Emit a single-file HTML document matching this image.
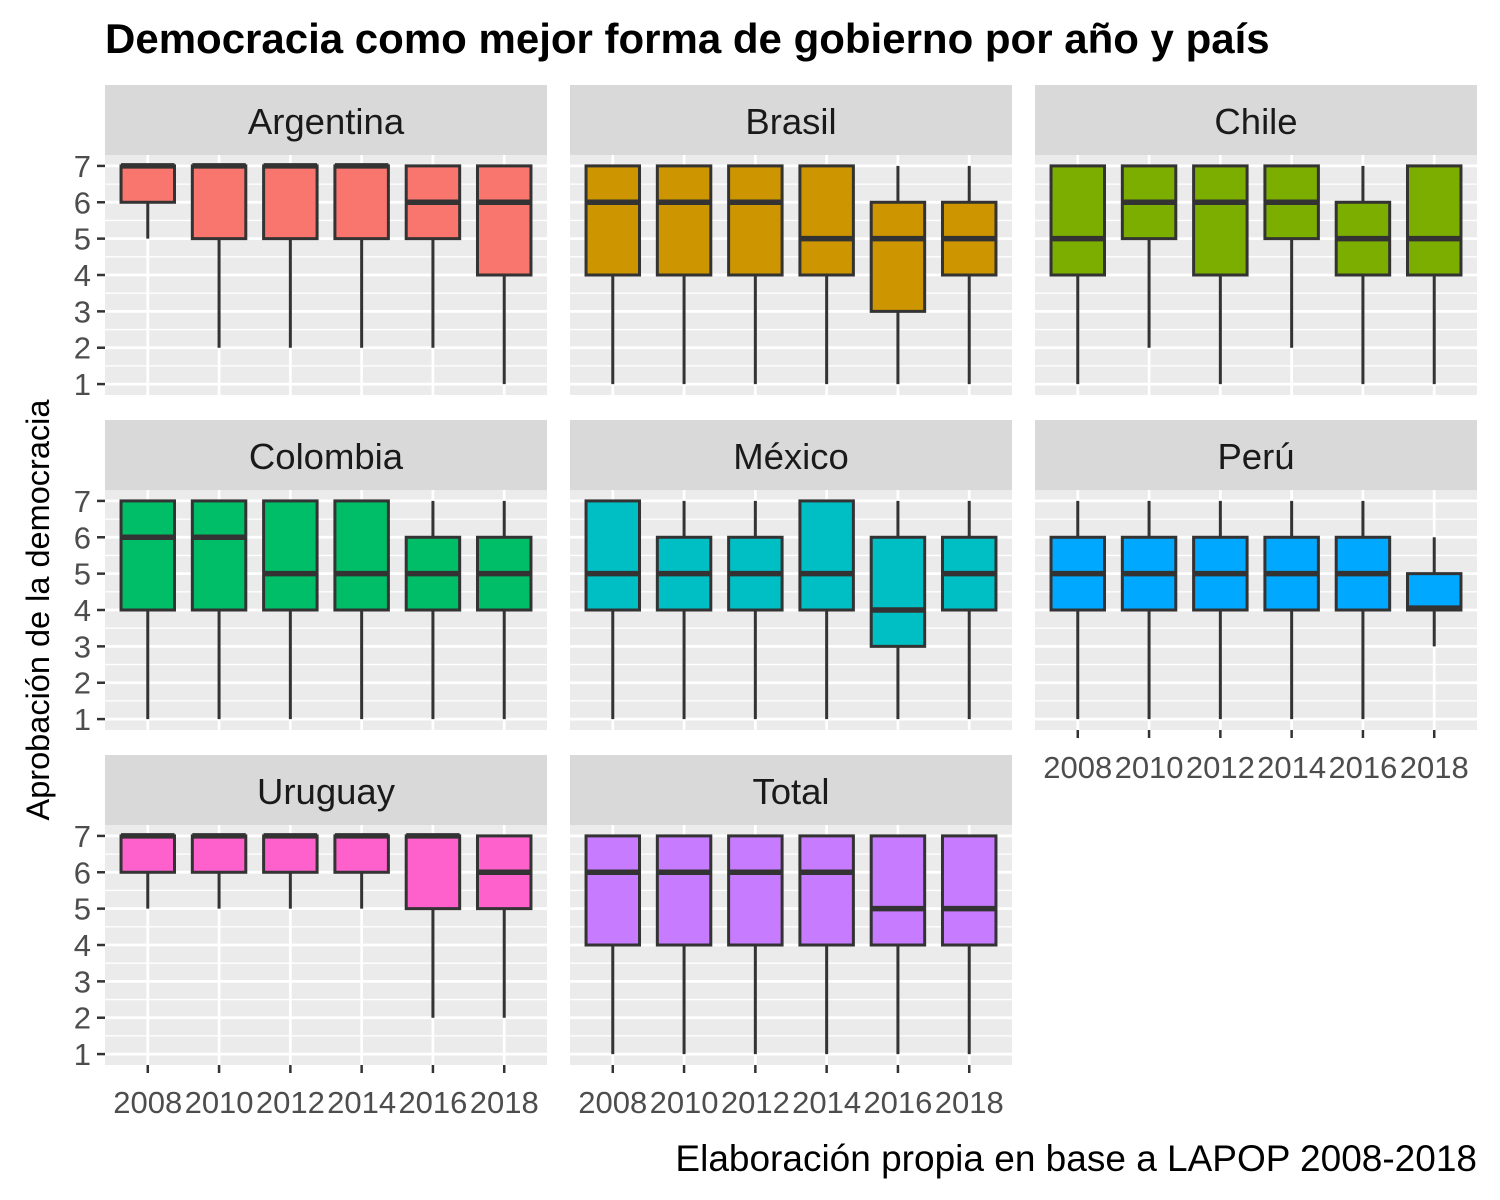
<!DOCTYPE html>
<html><head><meta charset="utf-8"><style>body{margin:0;background:#fff}svg{display:block}text{font-family:"Liberation Sans",Arial,sans-serif}</style></head>
<body>
<svg id="chart" width="1500" height="1200" xmlns="http://www.w3.org/2000/svg">
<text x="105" y="53" font-size="42" font-weight="bold" fill="#000">Democracia como mejor forma de gobierno por año y país</text>
<text transform="translate(49,610) rotate(-90)" text-anchor="middle" font-size="32.5" fill="#000">Aprobación de la democracia</text>
<text x="1477" y="1171" text-anchor="end" font-size="37" fill="#000">Elaboración propia en base a LAPOP 2008-2018</text>
</svg>
<script>
const years = ["2008","2010","2012","2014","2016","2018"];
const countries = ["Argentina","Brasil","Chile","Colombia","México","Perú","Uruguay","Total"];
const colors = ["#F8766D","#CD9600","#7CAE00","#00BE67","#00BFC4","#00A9FF","#FF61CC","#C77CFF"];
const yTicks = [1,2,3,4,5,6,7];
// [lower whisker, q1, median, q3, upper whisker]
const argentina = [[5,6,7,7,7],[2,5,7,7,7],[2,5,7,7,7],[2,5,7,7,7],[2,5,6,7,7],[1,4,6,7,7]];
const brasil = [[1,4,6,7,7],[1,4,6,7,7],[1,4,6,7,7],[1,4,5,7,7],[1,3,5,6,7],[1,4,5,6,7]];
const chile = [[1,4,5,7,7],[2,5,6,7,7],[1,4,6,7,7],[2,5,6,7,7],[1,4,5,6,7],[1,4,5,7,7]];
const colombia = [[1,4,6,7,7],[1,4,6,7,7],[1,4,5,7,7],[1,4,5,7,7],[1,4,5,6,7],[1,4,5,6,7]];
const mexico = [[1,4,5,7,7],[1,4,5,6,7],[1,4,5,6,7],[1,4,5,7,7],[1,3,4,6,7],[1,4,5,6,7]];
const peru = [[1,4,5,6,7],[1,4,5,6,7],[1,4,5,6,7],[1,4,5,6,7],[1,4,5,6,7],[3,4,4.05,5,6]];
const uruguay = [[5,6,7,7,7],[5,6,7,7,7],[5,6,7,7,7],[5,6,7,7,7],[2,5,7,7,7],[2,5,6,7,7]];
const total = [[1,4,6,7,7],[1,4,6,7,7],[1,4,6,7,7],[1,4,6,7,7],[1,4,5,7,7],[1,4,5,7,7]];
const allData = [argentina,brasil,chile,colombia,mexico,peru,uruguay,total];

const svg = document.getElementById('chart');
const NS = "http://www.w3.org/2000/svg";
function mk(tag, attrs, parent){const e=document.createElementNS(NS,tag);for(const k in attrs)e.setAttribute(k,attrs[k]);(parent||svg).appendChild(e);return e;}
const colX=[105,570,1035], PW=442, rowTop=[85,420,755], SH=70, PH=240;
const slug=s=>s.toLowerCase().normalize("NFD").replace(/[\u0300-\u036f]/g,"");

countries.forEach((c,i)=>{
  const col=i%3,row=Math.floor(i/3);
  const x0=colX[col], sy=rowTop[row], py=sy+SH;
  const yS=v=>py+(7.3-v)/6.6*PH;
  const xS=k=>x0+(k+0.6)/6.2*PW;
  const bw=0.75/6.2*PW;
  const g=mk('g',{});
  
  
  const strip=mk('rect',{x:x0,y:sy,width:PW,height:SH,fill:'#D9D9D9'},g);
  
  
  const st=mk('text',{x:x0+PW/2,y:sy+49,'text-anchor':'middle','font-size':36.5,fill:'#1A1A1A'},g);
  st.textContent=c;
  
  
  const bg=mk('rect',{x:x0,y:py,width:PW,height:PH,fill:'#EBEBEB'},g);
  
  
  for(let v=1.5;v<7;v+=1) mk('line',{x1:x0,x2:x0+PW,y1:yS(v),y2:yS(v),stroke:'#fff','stroke-width':1.3},g);
  yTicks.forEach(v=>mk('line',{x1:x0,x2:x0+PW,y1:yS(v),y2:yS(v),stroke:'#fff','stroke-width':2.7},g));
  years.forEach((y,k)=>mk('line',{x1:xS(k),x2:xS(k),y1:py,y2:py+PH,stroke:'#fff','stroke-width':2.7},g));
  allData[i].forEach((d,k)=>{
    const cx=xS(k);
    const b=mk('g',{},g);
    
    
    mk('line',{x1:cx,x2:cx,y1:yS(d[0]),y2:yS(d[1]),stroke:'#333','stroke-width':3},b);
    mk('line',{x1:cx,x2:cx,y1:yS(d[3]),y2:yS(d[4]),stroke:'#333','stroke-width':3},b);
    mk('rect',{x:cx-bw/2,y:yS(d[3]),width:bw,height:Math.max(0,yS(d[1])-yS(d[3])),fill:colors[i],stroke:'#333','stroke-width':3},b);
    mk('line',{x1:cx-bw/2,x2:cx+bw/2,y1:yS(d[2]),y2:yS(d[2]),stroke:'#333','stroke-width':5.5},b);
  });
  if(col===0){
    yTicks.forEach(v=>{
      mk('line',{x1:x0-8,x2:x0,y1:yS(v),y2:yS(v),stroke:'#333','stroke-width':2.5},g);
      const t=mk('text',{x:x0-14,y:yS(v)+11,'text-anchor':'end','font-size':31,fill:'#4D4D4D'},g);
      t.textContent=v;
      
      
    });
  }
  const bottom = (row===2)||(row===1&&col===2);
  if(bottom){
    years.forEach((y,k)=>{
      mk('line',{x1:xS(k),x2:xS(k),y1:py+PH,y2:py+PH+8,stroke:'#333','stroke-width':2.5},g);
      const t=mk('text',{x:xS(k),y:py+PH+48,'text-anchor':'middle','font-size':31,fill:'#4D4D4D'},g);
      t.textContent=y;
      
      
    });
  }
});
</script>
</body></html>
